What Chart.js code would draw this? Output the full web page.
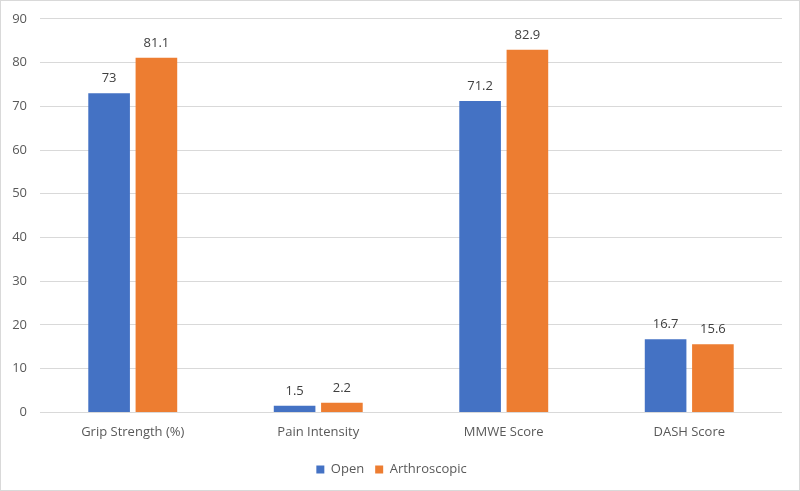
<!DOCTYPE html>
<html>
<head>
<meta charset="utf-8">
<script src="https://cdn.jsdelivr.net/npm/chart.js@4"></script>
<style>
  html, body { margin: 0; padding: 0; background: #fff; }
  #wrap { width: 800px; height: 491px; box-sizing: border-box; border: 1px solid #d9d9d9; position: relative; overflow: hidden; }
  #inner { position: absolute; left: 0; top: -3px; width: 798px; height: 494px; }
</style>
</head>
<body>
<div id="wrap"><div id="inner"><canvas id="c"></canvas></div></div>
<script>
// 데이터
const categories = ['Grip Strength (%)', 'Pain Intensity', 'MMWE Score', 'DASH Score'];
const openVals = [73, 1.5, 71.2, 16.7];
const arthroVals = [81.1, 2.2, 82.9, 15.6];
const yTicks = [0, 10, 20, 30, 40, 50, 60, 70, 80, 90];

const FONT = "'Open Sans', 'Noto Sans', sans-serif";

// 막대 위 값 표시
const valueLabels = {
    id: 'valueLabels',
    afterDatasetsDraw(chart) {
        const ctx = chart.ctx;
        ctx.save();
        ctx.font = '13px ' + FONT;
        ctx.fillStyle = '#404040';
        ctx.textAlign = 'center';
        ctx.textBaseline = 'alphabetic';
        chart.data.datasets.forEach((ds, i) => {
            chart.getDatasetMeta(i).data.forEach((bar, j) => {
                ctx.fillText(String(ds.data[j]), bar.x, bar.y - 11);
            });
        });
        ctx.restore();
    }
};

new Chart(document.getElementById('c').getContext('2d'), {
    type: 'bar',
    data: {
        labels: categories,
        datasets: [
            { label: 'Open', data: openVals, backgroundColor: '#4472C4' },
            { label: 'Arthroscopic', data: arthroVals, backgroundColor: '#ED7D31' }
        ]
    },
    options: {
        responsive: true,
        maintainAspectRatio: false,
        animation: false,
        barPercentage: 0.88,
        categoryPercentage: 0.51,
        layout: { padding: { left: 0, right: 17, top: 5, bottom: 6 } },
        scales: {
            x: {
                grid: { display: false, drawTicks: false },
                border: { display: false },
                ticks: { color: '#595959', font: { family: FONT, size: 13 }, padding: 12 }
            },
            y: {
                min: 0, max: 90,
                afterBuildTicks: axis => { axis.ticks = yTicks.map(v => ({ value: v })); },
                afterFit: axis => { axis.width = 39; },
                grid: { color: '#d9d9d9', drawTicks: false },
                border: { display: false },
                ticks: { color: '#595959', font: { family: FONT, size: 13 }, padding: 13 }
            }
        },
        plugins: {
            legend: {
                position: 'bottom',
                labels: { color: '#595959', font: { family: FONT, size: 13 }, boxWidth: 8, boxHeight: 8, padding: 11 }
            },
            tooltip: { enabled: false }
        }
    },
    plugins: [valueLabels]
});
</script>
</body>
</html>
